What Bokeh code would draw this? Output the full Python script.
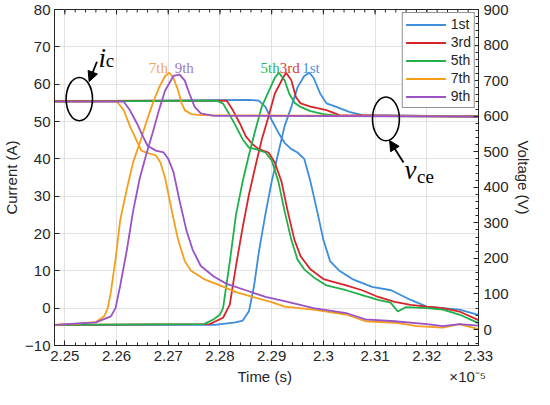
import numpy as np
from bokeh.plotting import figure
from bokeh.models import (Range1d, LinearAxis, FixedTicker, Legend, LegendItem,
                          Label, Arrow, NormalHead)
from bokeh.embed import file_html
from bokeh.resources import INLINE

# ---------------- data (time in units of 1e-5 s) ----------------
harmonics = ["1st", "3rd", "5th", "7th", "9th"]
colors = ["#3C8DDB", "#D7262B", "#1FAF4B", "#F49E1C", "#9A52C7"]
label_colors = ["#4A93DE", "#DD3A36", "#2DB552", "#F4A65A", "#9C7BC9"]

# collector current i_c (A)
t_ic_1st = [2.248, 2.2856, 2.2875, 2.2888, 2.2900, 2.2913, 2.2925, 2.2938, 2.2950, 2.2963, 2.2975, 2.2988,
            2.3000, 2.3013, 2.3031, 2.3056, 2.3094, 2.3131, 2.3169, 2.3200, 2.3231, 2.3263, 2.3300]
ic_1st = [55.4, 55.8, 55.6, 53.9, 50.4, 47.0, 44.3, 42.6, 41.7, 40.0, 33.9, 26.0,
          18.3, 12.6, 10.0, 7.8, 5.7, 4.8, 2.2, 0.4, 0.0, -0.4, -1.8]

t_ic_3rd = [2.248, 2.2813, 2.2825, 2.2838, 2.2850, 2.2863, 2.2875, 2.2894, 2.2906, 2.2919, 2.2931, 2.2944,
            2.2956, 2.2975, 2.3000, 2.3044, 2.3075, 2.3106, 2.3138, 2.3169, 2.3200, 2.3231, 2.3263, 2.3300]
ic_3rd = [55.5, 55.6, 53.0, 49.6, 46.0, 43.9, 42.6, 41.7, 39.0, 33.9, 26.0, 18.3,
          13.9, 10.4, 7.8, 6.1, 4.8, 3.0, 1.7, 0.9, 0.4, 0.0, -0.9, -3.2]

t_ic_5th = [2.248, 2.2794, 2.2806, 2.2819, 2.2831, 2.2844, 2.2856, 2.2869, 2.2888, 2.2900, 2.2913, 2.2925,
            2.2938, 2.2950, 2.2963, 2.2981, 2.3006, 2.3044, 2.3075, 2.3106, 2.3130, 2.3144, 2.3160, 2.3200,
            2.3231, 2.3263, 2.3300]
ic_5th = [55.3, 55.6, 54.8, 51.7, 48.7, 45.2, 43.0, 42.6, 41.7, 39.6, 33.9, 26.0,
          18.3, 13.0, 10.4, 8.3, 6.1, 4.8, 3.5, 2.2, 1.5, -0.9, 0.3, 0.0,
          -0.4, -1.7, -4.0]

t_ic_7th = [2.248, 2.2601, 2.2614, 2.2626, 2.2639, 2.2648, 2.2657, 2.2676, 2.2685, 2.2694, 2.2707, 2.2719,
            2.2732, 2.2744, 2.2769, 2.2800, 2.2831, 2.2863, 2.2900, 2.2925, 2.2981, 2.3044, 2.3081, 2.3138,
            2.3181, 2.3231, 2.3263, 2.3300]
ic_7th = [55.3, 55.3, 53.0, 48.7, 44.8, 42.2, 41.7, 40.9, 39.0, 34.8, 26.0, 18.3,
          12.6, 10.0, 7.8, 6.1, 4.3, 3.0, 1.6, 0.4, -0.4, -1.7, -3.5, -3.9,
          -4.8, -5.2, -4.3, -5.6]

t_ic_9th = [2.248, 2.2614, 2.2626, 2.2639, 2.2651, 2.2660, 2.2676, 2.2691, 2.2700, 2.2710, 2.2722, 2.2735,
            2.2747, 2.2763, 2.2788, 2.2813, 2.2850, 2.2888, 2.2925, 2.2981, 2.3044, 2.3081, 2.3138, 2.3200,
            2.3231, 2.3263, 2.3300]
ic_9th = [55.3, 55.3, 53.0, 49.6, 46.0, 43.5, 42.2, 41.7, 40.0, 36.5, 28.7, 20.9,
          15.7, 11.3, 8.5, 6.5, 4.8, 3.0, 1.9, 0.0, -1.3, -3.0, -3.5, -4.3,
          -4.8, -4.3, -4.7]

# collector-emitter voltage v_ce (V)
t_vce_1st = [2.248, 2.2790, 2.2830, 2.2844, 2.2856, 2.2866, 2.2875, 2.2888, 2.2900, 2.2913, 2.2925, 2.2938,
             2.2950, 2.2963, 2.2973, 2.2981, 2.2994, 2.3006, 2.3025, 2.3050, 2.3075, 2.3300]
vce_1st = [13, 13, 20, 25, 51, 123, 216, 325, 416, 498, 572, 626,
           681, 713, 722, 708, 663, 636, 626, 612, 603, 599]

t_vce_3rd = [2.248, 2.2780, 2.2806, 2.2819, 2.2831, 2.2844, 2.2856, 2.2869, 2.2881, 2.2894, 2.2906, 2.2922,
             2.2928, 2.2938, 2.2947, 2.2956, 2.2975, 2.3006, 2.3031, 2.3300]
vce_3rd = [13, 15, 33, 70, 179, 288, 379, 462, 535, 599, 663, 708,
           722, 701, 653, 636, 627, 617, 603, 599]

t_vce_5th = [2.248, 2.2769, 2.2788, 2.2800, 2.2806, 2.2819, 2.2831, 2.2844, 2.2856, 2.2869, 2.2881, 2.2894,
             2.2906, 2.2914, 2.2925, 2.2934, 2.2944, 2.2956, 2.2975, 2.3000, 2.3031, 2.3300]
vce_5th = [13, 15, 29, 42, 60, 190, 323, 417, 491, 564, 627, 669,
           708, 722, 701, 663, 638, 626, 614, 606, 601, 599]

t_vce_7th = [2.248, 2.2520, 2.2560, 2.2576, 2.2583, 2.2589, 2.2598, 2.2607, 2.2620, 2.2632, 2.2645, 2.2657,
             2.2670, 2.2682, 2.2694, 2.2702, 2.2710, 2.2719, 2.2726, 2.2732, 2.2744, 2.2763, 2.3300]
vce_7th = [13, 16, 21, 37, 60, 105, 197, 307, 396, 470, 525, 581,
           636, 680, 713, 722, 708, 672, 636, 617, 606, 603, 599]

t_vce_9th = [2.248, 2.2560, 2.2589, 2.2598, 2.2607, 2.2620, 2.2632, 2.2645, 2.2657, 2.2670, 2.2682, 2.2694,
             2.2710, 2.2722, 2.2732, 2.2741, 2.2751, 2.2763, 2.2788, 2.3300]
vce_9th = [13, 20, 37, 60, 123, 224, 333, 426, 490, 554, 617, 672,
           713, 717, 700, 663, 626, 608, 601, 599]

t_ic = [t_ic_1st, t_ic_3rd, t_ic_5th, t_ic_7th, t_ic_9th]
ic = [ic_1st, ic_3rd, ic_5th, ic_7th, ic_9th]
t_vce = [t_vce_1st, t_vce_3rd, t_vce_5th, t_vce_7th, t_vce_9th]
vce = [vce_1st, vce_3rd, vce_5th, vce_7th, vce_9th]

# peak label positions (time, current-axis level)
peak_label_t = [2.2976, 2.2935, 2.2897, 2.2681, 2.2731]
peak_label_y = [64.3, 64.3, 64.3, 64.3, 64.3]

x_ticks = [2.25, 2.26, 2.27, 2.28, 2.29, 2.30, 2.31, 2.32, 2.33]
x_tick_labels = ["2.25", "2.26", "2.27", "2.28", "2.29", "2.3", "2.31", "2.32", "2.33"]
i_ticks = [-10, 0, 10, 20, 30, 40, 50, 60, 70, 80]
v_ticks = [0, 100, 200, 300, 400, 500, 600, 700, 800, 900]

x_label = "Time (s)"
x_exponent = "×10⁻⁵"

# ---------------- figure ----------------
AX = "#262626"
FONT = "Liberation Sans"
SERIF = "Liberation Serif"
Y_MIN, Y_MAX = -10, 80

p = figure(width=534, height=389, output_backend="svg", toolbar_location=None,
           x_range=Range1d(2.248, 2.33), y_range=Range1d(Y_MIN, Y_MAX),
           min_border_left=45, min_border_right=51, min_border_top=9, min_border_bottom=44)
p.extra_y_ranges = {"volt": Range1d(-45, 900)}
p.background_fill_color = "white"
p.border_fill_color = "white"
p.outline_line_color = AX
p.outline_line_width = 1

x_minor = list(np.round(np.arange(2.248, 2.3301, 0.002), 4))
v_minor = list(range(-40, 901, 20))
xticker = FixedTicker(ticks=x_ticks, minor_ticks=x_minor)
iticker = FixedTicker(ticks=i_ticks, minor_ticks=[])
vticker = FixedTicker(ticks=v_ticks, minor_ticks=v_minor)


def style_axis(ax):
    ax.major_tick_in = 5
    ax.major_tick_out = 0
    ax.minor_tick_in = 3
    ax.minor_tick_out = 0
    ax.axis_line_color = AX
    ax.major_tick_line_color = AX
    ax.minor_tick_line_color = AX
    ax.major_label_text_font = FONT
    ax.major_label_text_font_size = "15px"
    ax.major_label_text_color = AX
    ax.axis_label_text_font = FONT
    ax.axis_label_text_font_size = "15px"
    ax.axis_label_text_font_style = "normal"
    ax.axis_label_text_color = AX


# the exponent note sits at the right end of the x-axis label row; the
# centred label is balanced with em/en spaces so "Time (s)" stays centred
EM, EN, THIN = "\u2003", "\u2002", "\u2009"
xa = p.xaxis[0]
xa.ticker = xticker
xa.major_label_overrides = {v: s for v, s in zip(x_ticks, x_tick_labels)}
xa.axis_label = EM * 12 + EN + THIN + x_label + EM * 10 + EN + x_exponent
style_axis(xa)
xa.major_label_standoff = 5
xa.axis_label_standoff = 4

ya = p.yaxis[0]
ya.ticker = iticker
ya.axis_label = "Current (A)"
style_axis(ya)
ya.major_label_standoff = 4
ya.axis_label_standoff = 2

ra = LinearAxis(y_range_name="volt", ticker=vticker, axis_label="Voltage (V)")
style_axis(ra)
ra.major_label_standoff = 5
ra.axis_label_standoff = 3
p.add_layout(ra, "right")

p.xgrid.ticker = xticker
p.ygrid.ticker = iticker
p.xgrid.grid_line_color = "#E2E2E2"
p.ygrid.grid_line_color = "#E2E2E2"

# inward tick marks along the top edge of the box (major and minor)
p.segment(x0=x_ticks, y0=[Y_MAX] * len(x_ticks), x1=x_ticks, y1=[Y_MAX - 1.35] * len(x_ticks),
          line_color=AX, line_width=1)
p.segment(x0=x_minor, y0=[Y_MAX] * len(x_minor), x1=x_minor, y1=[Y_MAX - 0.8] * len(x_minor),
          line_color=AX, line_width=1)

# ---------------- curves ----------------
items = []
for name, c, ti, yi, tv, yv in zip(harmonics, colors, t_ic, ic, t_vce, vce):
    r1 = p.line(ti, yi, line_color=c, line_width=1.8)
    r2 = p.line(tv, yv, line_color=c, line_width=1.8, y_range_name="volt")
    items.append(LegendItem(label=name, renderers=[r1, r2]))

legend = Legend(items=items, location="top_right")
legend.border_line_color = AX
legend.border_line_width = 1
legend.background_fill_color = "white"
legend.background_fill_alpha = 1
legend.label_text_font = FONT
legend.label_text_font_size = "14px"
legend.label_text_color = AX
legend.glyph_width = 40
legend.glyph_height = 15
legend.label_height = 15
legend.spacing = 2
legend.padding = 3
legend.label_standoff = 5
legend.margin = 3
p.add_layout(legend)

# peak labels
for name, c, tx, ty in zip(harmonics, label_colors, peak_label_t, peak_label_y):
    p.add_layout(Label(x=tx, y=ty, text=name, text_align="center", text_baseline="alphabetic",
                       text_font=SERIF, text_font_size="15px", text_color=c))

# annotations: ellipses, arrows, symbols
p.ellipse(x=[2.2528], y=[56.0], width=0.0051, height=11.6, fill_color=None,
          line_color="black", line_width=1.6)
p.ellipse(x=[2.3121], y=[50.7], width=0.0052, height=11.7, fill_color=None,
          line_color="black", line_width=1.6)

p.add_layout(Arrow(end=NormalHead(size=10, fill_color="black", line_color="black"),
                   x_start=2.2562, y_start=66.0, x_end=2.2547, y_end=60.7,
                   line_color="black", line_width=1.8))
p.add_layout(Arrow(end=NormalHead(size=10, fill_color="black", line_color="black"),
                   x_start=2.3155, y_start=39.0, x_end=2.3128, y_end=44.9,
                   line_color="black", line_width=1.8))

p.add_layout(Label(x=2.2565, y=67.0, text="i", text_font=SERIF, text_font_style="italic",
                   text_font_size="27px", text_color="black", text_baseline="alphabetic"))
p.add_layout(Label(x=2.2579, y=66.4, text="c", text_font=SERIF,
                   text_font_size="19px", text_color="black", text_baseline="alphabetic"))
p.add_layout(Label(x=2.3157, y=36.9, text="v", text_font=SERIF, text_font_style="italic",
                   text_font_size="27px", text_color="black", text_baseline="alphabetic"))
p.add_layout(Label(x=2.3181, y=35.2, text="ce", text_font=SERIF,
                   text_font_size="19px", text_color="black", text_baseline="alphabetic"))

open("out.html", "w").write(file_html(p, INLINE))
